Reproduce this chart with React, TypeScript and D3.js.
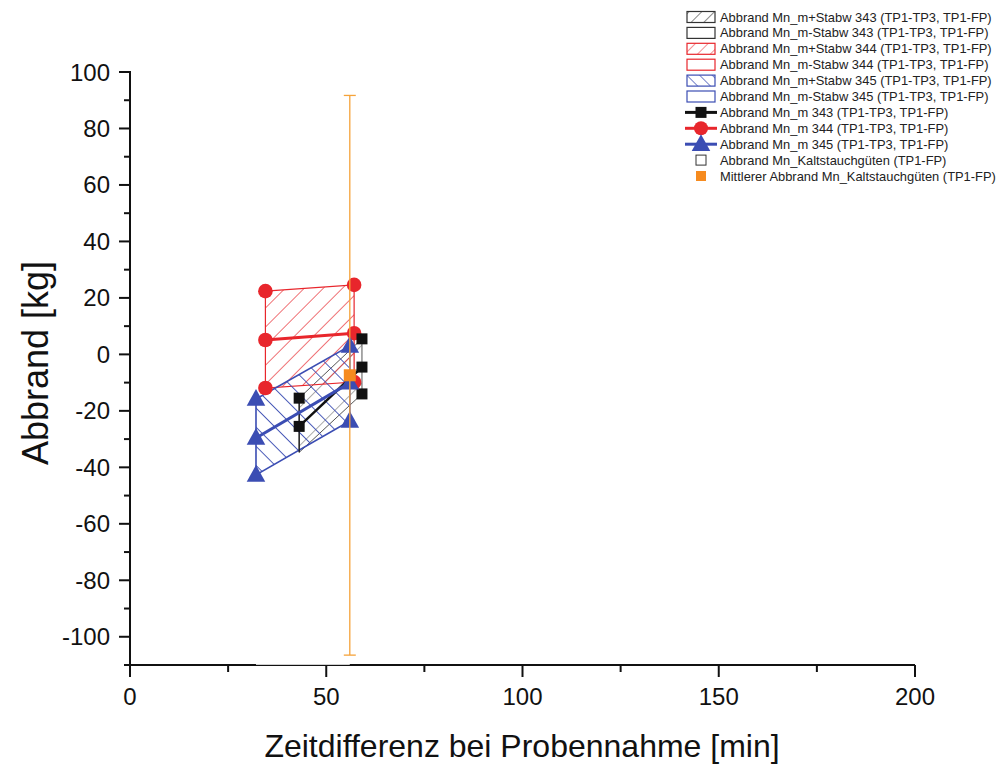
import React from "react";
import * as d3 from "d3";

const W = 1001;
const H = 767;

const xTicks = [0, 50, 100, 150, 200];
const xMinor = [25, 75, 125, 175];
const yTicks = [-100, -80, -60, -40, -20, 0, 20, 40, 60, 80, 100];
const yMinor = [-110, -90, -70, -50, -30, -10, 10, 30, 50, 70, 90];

// Series 343
const x343 = [43.1, 59.1];
const mean343 = [-25.5, -4.5];
const plus343 = [-15.5, 5.5];
const minus343 = [-34.7, -14];
const mark343X = [43.1, 43.1, 59.1, 59.1, 59.1];
const mark343Y = [-15.5, -25.5, 5.5, -4.5, -14];

// Series 344
const x344 = [34.5, 57.1];
const mean344 = [5.1, 7.5];
const plus344 = [22.4, 24.6];
const minus344 = [-11.9, -9.8];

// Series 345
const x345 = [32.1, 56.0];
const mean345 = [-29.6, -10.1];
const plus345 = [-15.8, 3.0];
const minus345 = [-42.7, -23.6];

// Kaltstauchgüten mean
const kX = [56.0];
const kMean = [-7.4];
const kSd = [99.1];

const legendLabels = [
  "Abbrand Mn_m+Stabw 343 (TP1-TP3, TP1-FP)",
  "Abbrand Mn_m-Stabw 343 (TP1-TP3, TP1-FP)",
  "Abbrand Mn_m+Stabw 344 (TP1-TP3, TP1-FP)",
  "Abbrand Mn_m-Stabw 344 (TP1-TP3, TP1-FP)",
  "Abbrand Mn_m+Stabw 345 (TP1-TP3, TP1-FP)",
  "Abbrand Mn_m-Stabw 345 (TP1-TP3, TP1-FP)",
  "Abbrand Mn_m 343 (TP1-TP3, TP1-FP)",
  "Abbrand Mn_m 344 (TP1-TP3, TP1-FP)",
  "Abbrand Mn_m 345 (TP1-TP3, TP1-FP)",
  "Abbrand Mn_Kaltstauchgüten (TP1-FP)",
  "Mittlerer Abbrand Mn_Kaltstauchgüten (TP1-FP)",
];

const C_BLACK = "#111";
const C_GREY = "#555";
const C_RED = "#e8262c";
const C_BLUE = "#3b4db3";
const C_ORANGE = "#f68b1f";
const C_ORANGE_LINE = "#f5a33a";

const FONT = "'Liberation Sans', Arial, sans-serif";

export default function App() {
  const x = d3.scaleLinear().domain([0, 200]).range([130, 915]);
  const y = d3.scaleLinear().domain([-110, 100]).range([665, 72]);

  const band = (xs: number[], up: number[], lo: number[]) => {
    const pts: [number, number][] = [];
    xs.forEach((v, i) => pts.push([x(v), y(up[i])]));
    for (let i = xs.length - 1; i >= 0; i--) pts.push([x(xs[i]), y(lo[i])]);
    return d3.line()(pts) + "Z";
  };
  const line = (xs: number[], ys: number[]) =>
    d3.line()(xs.map((v, i) => [x(v), y(ys[i])] as [number, number]));

  const tri = (cx: number, cy: number, s: number) =>
    `M${cx},${cy - s * 0.62}L${cx + s * 0.58},${cy + s * 0.42}L${cx - s * 0.58},${cy + s * 0.42}Z`;

  const legX = 687;
  const legTextX = 720;
  const legY0 = 17;
  const legDy = 15.9;

  return (
    <svg
      width={W}
      height={H}
      style={{ position: "absolute", left: 0, top: 0, background: "#fff" }}
      fontFamily={FONT}
    >
      <defs>
        <pattern id="hBlack" width="13.5" height="13.5" patternUnits="userSpaceOnUse" patternTransform="rotate(45)">
          <line x1="0" y1="0" x2="0" y2="13.5" stroke={C_GREY} strokeWidth="1" />
        </pattern>
        <pattern id="hRed" width="13.5" height="13.5" patternUnits="userSpaceOnUse" patternTransform="rotate(45)">
          <line x1="0" y1="0" x2="0" y2="13.5" stroke={C_RED} strokeWidth="1.3" />
        </pattern>
        <pattern id="hBlue" width="13.5" height="13.5" patternUnits="userSpaceOnUse" patternTransform="rotate(-45)">
          <line x1="0" y1="0" x2="0" y2="13.5" stroke={C_BLUE} strokeWidth="1.8" />
        </pattern>
        <pattern id="lBlack" width="9" height="9" patternUnits="userSpaceOnUse" patternTransform="rotate(45)">
          <line x1="0" y1="0" x2="0" y2="9" stroke={C_BLACK} strokeWidth="1" />
        </pattern>
        <pattern id="lRed" width="9" height="9" patternUnits="userSpaceOnUse" patternTransform="rotate(45)">
          <line x1="0" y1="0" x2="0" y2="9" stroke={C_RED} strokeWidth="1" />
        </pattern>
        <pattern id="lBlue" width="9" height="9" patternUnits="userSpaceOnUse" patternTransform="rotate(-45)">
          <line x1="0" y1="0" x2="0" y2="9" stroke={C_BLUE} strokeWidth="1.4" />
        </pattern>
      </defs>

      {/* bands */}
      <path d={band(x343, plus343, minus343)} fill="url(#hBlack)" stroke={C_GREY} strokeWidth={1} />
      <path d={band(x344, plus344, minus344)} fill="url(#hRed)" stroke={C_RED} strokeWidth={1.2} />
      <path d={band(x345, plus345, minus345)} fill="url(#hBlue)" stroke={C_BLUE} strokeWidth={1.6} />

      {/* 343 vertical whisker */}
      <line x1={x(x343[0])} x2={x(x343[0])} y1={y(plus343[0])} y2={y(minus343[0])} stroke={C_BLACK} strokeWidth={1.2} />

      {/* mean lines */}
      <path d={line(x343, mean343)!} stroke={C_BLACK} strokeWidth={2.5} fill="none" />
      <path d={line(x344, mean344)!} stroke={C_RED} strokeWidth={3} fill="none" />
      <path d={line(x345, mean345)!} stroke={C_BLUE} strokeWidth={3} fill="none" />

      {/* red circles */}
      {x344.flatMap((v, i) =>
        [plus344[i], mean344[i], minus344[i]].map((w, j) => (
          <circle key={`r${i}${j}`} cx={x(v)} cy={y(w)} r={7.3} fill={C_RED} />
        ))
      )}
      {/* black squares */}
      {mark343X.map((v, i) => (
        <rect key={`b${i}`} x={x(v) - 5.5} y={y(mark343Y[i]) - 5.5} width={11} height={11} fill={C_BLACK} />
      ))}
      {/* blue triangles */}
      {x345.flatMap((v, i) =>
        [plus345[i], mean345[i], minus345[i]].map((w, j) => (
          <path key={`t${i}${j}`} d={tri(x(v), y(w), 16)} fill={C_BLUE} />
        ))
      )}

      {/* orange error bar + square */}
      {kX.map((v, i) => {
        const cx = x(v);
        const top = y(kMean[i] + kSd[i]);
        const bot = y(kMean[i] - kSd[i]);
        return (
          <g key={`k${i}`}>
            <line x1={cx} x2={cx} y1={top} y2={bot} stroke={C_ORANGE_LINE} strokeWidth={1.3} />
            <line x1={cx - 6} x2={cx + 6} y1={top} y2={top} stroke={C_ORANGE_LINE} strokeWidth={1.3} />
            <line x1={cx - 6} x2={cx + 6} y1={bot} y2={bot} stroke={C_ORANGE_LINE} strokeWidth={1.3} />
            <rect x={cx - 6} y={y(kMean[i]) - 6} width={12} height={12} fill={C_ORANGE} />
          </g>
        );
      })}

      {/* axes */}
      <line x1={x(0) - 5} x2={x(200)} y1={y(-110)} y2={y(-110)} stroke="#111" strokeWidth={2} />
      <line x1={x(x345[0])} x2={x(kX[0])} y1={y(-110) - 0.6} y2={y(-110) - 0.6} stroke="#fff" strokeWidth={0.9} />
      <line x1={x(0)} x2={x(0)} y1={y(100) - 1} y2={y(-110) + 12} stroke="#111" strokeWidth={2} />

      {xTicks.map((t) => (
        <g key={`xt${t}`}>
          <line x1={x(t)} x2={x(t)} y1={y(-110)} y2={y(-110) + 12} stroke="#111" strokeWidth={2} />
          <text x={x(t)} y={705} fontSize={24} textAnchor="middle" fill="#111">
            {t}
          </text>
        </g>
      ))}
      {xMinor.map((t) => (
        <line key={`xm${t}`} x1={x(t)} x2={x(t)} y1={y(-110)} y2={y(-110) + 7} stroke="#111" strokeWidth={2} />
      ))}
      {yTicks.map((t) => (
        <g key={`yt${t}`}>
          <line x1={x(0) - 11} x2={x(0)} y1={y(t)} y2={y(t)} stroke="#111" strokeWidth={2} />
          <text x={110} y={y(t) + 8.5} fontSize={24} textAnchor="end" fill="#111">
            {t}
          </text>
        </g>
      ))}
      {yMinor.map((t) => (
        <line key={`ym${t}`} x1={x(0) - 6} x2={x(0)} y1={y(t)} y2={y(t)} stroke="#111" strokeWidth={2} />
      ))}

      {/* titles */}
      <text x={522} y={757} fontSize={32} textAnchor="middle" fill="#111">
        Zeitdifferenz bei Probennahme [min]
      </text>
      <text transform={`translate(48,363) rotate(-90)`} fontSize={36} textAnchor="middle" fill="#111">
        Abbrand [kg]
      </text>

      {/* legend */}
      {legendLabels.map((lab, i) => {
        const cy = legY0 + i * legDy;
        let sym: React.ReactNode = null;
        if (i < 6) {
          const col = i < 2 ? "#333" : i < 4 ? C_RED : C_BLUE;
          const pat = i % 2 === 0 ? (i < 2 ? "url(#lBlack)" : i < 4 ? "url(#lRed)" : "url(#lBlue)") : "none";
          sym = <rect x={legX} y={cy - 5.5} width={28} height={11} fill={pat} stroke={col} strokeWidth={1.2} />;
        } else if (i < 9) {
          const col = i === 6 ? C_BLACK : i === 7 ? C_RED : C_BLUE;
          const mx = legX + 14;
          sym = (
            <g>
              <line x1={legX - 2} x2={legX + 30} y1={cy} y2={cy} stroke={col} strokeWidth={3} />
              {i === 6 && <rect x={mx - 5.5} y={cy - 5.5} width={11} height={11} fill={col} />}
              {i === 7 && <circle cx={mx} cy={cy} r={7} fill={col} />}
              {i === 8 && <path d={tri(mx, cy, 16)} fill={col} />}
            </g>
          );
        } else if (i === 9) {
          sym = <rect x={legX + 9} y={cy - 5} width={10} height={10} fill="#fff" stroke="#333" strokeWidth={1} />;
        } else {
          sym = <rect x={legX + 9} y={cy - 5} width={10} height={10} fill={C_ORANGE} />;
        }
        return (
          <g key={`lg${i}`}>
            {sym}
            <text x={legTextX} y={cy + 4.5} fontSize={12.9} fill="#222">
              {lab}
            </text>
          </g>
        );
      })}
    </svg>
  );
}
